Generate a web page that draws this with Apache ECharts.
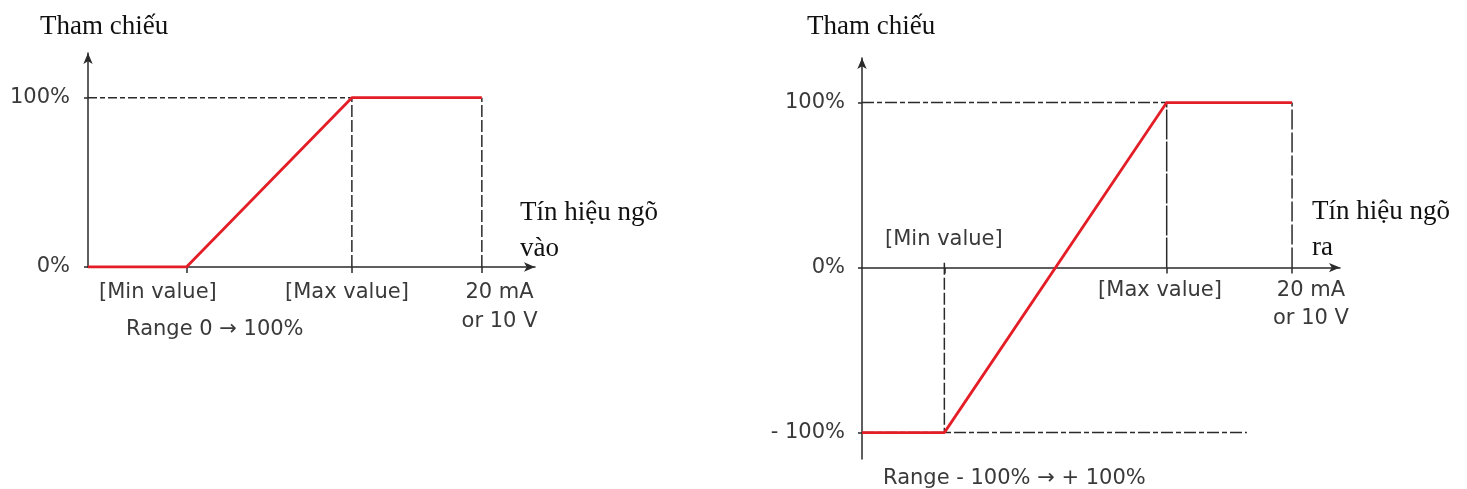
<!DOCTYPE html>
<html>
<head>
<meta charset="utf-8">
<script src="https://cdn.jsdelivr.net/npm/echarts@6/dist/echarts.min.js"></script>
<style>
  html, body { margin: 0; padding: 0; background: #fff; }
  #graph { width: 1467px; height: 489px; }
</style>
</head>
<body>
<div id="graph"></div>
<script>
"use strict"

// ---- left chart: input 0..100% ----
const leftMin = 5, leftMax = 13.4, leftFull = 20;
const leftCurve = [[0, 0], [leftMin, 0], [leftMax, 100], [leftFull, 100]];
const leftTickX = [leftMin, leftMax, leftFull];
const leftLabelX = [3.55, 13.15, 20.9];
const leftLabels = ["[Min value]", "[Max value]", "20 mA\nor 10 V"];
const leftYTicks = [0, 100];
const leftYLabels = ["0%", "100%"];

// ---- right chart: output -100..+100% ----
const rightMin = 3.83, rightMax = 14.17, rightFull = 20, rightLowEnd = 17.9;
const rightCurve = [[0, -100], [rightMin, -100], [rightMax, 100], [rightFull, 100]];
const rightTickX = [rightMin, rightMax, rightFull];
const rightLabelX = [13.86, 20.88];
const rightLabels = ["[Max value]", "20 mA\nor 10 V"];
const rightYTicks = [-100, 0, 100];
const rightYLabels = ["- 100%", "0%", "100%"];

const ink = "#2a2a2a";
const red = "#e41e26";
const labelFont = { fontFamily: "DejaVu Sans", fontSize: 21, color: "#3a3a3a", fontWeight: "normal" };
const serifFont = { fontFamily: "Liberation Serif", fontSize: 27, color: "#111", fontWeight: "normal" };

function pick(vals, texts)
{
    return v =>
    {
        let best = 0;
        vals.forEach((x, i) => { if (Math.abs(x - v) < Math.abs(vals[best] - v)) best = i; });
        return texts[best];
    };
}

// the x axis sits on the 0% line; offset lifts it there from the grid bottom
function xAx(grid, max, ticks, labelAt, labels, margin, lh, offset)
{
    return {
        type: "value", gridIndex: grid, min: 0, max: max, position: "bottom", offset: offset,
        splitLine: { show: false },
        axisLine: { show: true, onZero: false, symbol: ["none", "arrow"], symbolSize: [7, 11], lineStyle: { color: ink, width: 1.5 } },
        axisTick: { show: true, customValues: ticks, length: 6, lineStyle: { color: ink, width: 1.5 } },
        axisLabel: Object.assign({ show: true, customValues: labelAt, formatter: pick(labelAt, labels), margin: margin, lineHeight: lh }, labelFont)
    };
}

function yAx(grid, min, max, ticks, labels, margin)
{
    return {
        type: "value", gridIndex: grid, min: min, max: max,
        splitLine: { show: false },
        axisLine: { show: true, onZero: false, symbol: ["none", "arrow"], symbolSize: [7, 11], lineStyle: { color: ink, width: 1.5 } },
        axisTick: { show: true, customValues: ticks, length: 4, lineStyle: { color: ink, width: 1.5 } },
        axisLabel: Object.assign({ show: true, customValues: ticks, formatter: pick(ticks, labels), margin: margin }, labelFont)
    };
}

function guide(idx, data, dash)
{
    return {
        type: "line", xAxisIndex: idx, yAxisIndex: idx, data: data, symbol: "none", z: 2,
        lineStyle: { color: ink, width: 1.5, type: dash }, silent: true
    };
}

function curve(idx, data)
{
    return {
        type: "line", xAxisIndex: idx, yAxisIndex: idx, data: data, symbol: "none", z: 5,
        lineStyle: { color: red, width: 2.8 }, silent: true
    };
}

function caption(text, left, top, font, lh)
{
    return { text: text, left: left, top: top, padding: 0, textStyle: Object.assign({ lineHeight: lh }, font) };
}

const option = {
    animation: false,
    backgroundColor: "#fff",
    title: [
        caption("Tham chiếu", 40, 12, serifFont, 30),
        caption("Tham chiếu", 807, 12, serifFont, 30),
        caption("Tín hiệu ngõ\nvào", 520, 195, serifFont, 36),
        caption("Tín hiệu ngõ\nra", 1312, 194, serifFont, 36),
        caption("Range 0 → 100%", 126, 317, labelFont, 26),
        caption("Range - 100% → + 100%", 883, 466, labelFont, 26),
        caption("[Min value]", 885, 227, labelFont, 26)
    ],
    grid: [
        { left: 88, top: 53, width: 447, height: 214, outerBoundsMode: "none", containLabel: false },
        { left: 862, top: 58, width: 478, height: 401, outerBoundsMode: "none", containLabel: false }
    ],
    xAxis: [
        xAx(0, 22.7, leftTickX, leftLabelX, leftLabels, 11, 29, 0),
        xAx(1, 22.23, rightTickX, rightLabelX, rightLabels, 9, 28, -191.4)
    ],
    yAxis: [
        yAx(0, 0, 126.4, leftYTicks, leftYLabels, 18),
        yAx(1, -116, 127, rightYTicks, rightYLabels, 17)
    ],
    series: [
        guide(0, [[0, 100], [leftMax, 100]], [9, 3, 5, 3]),
        guide(0, [[leftMax, 0], [leftMax, 100]], [12, 3]),
        guide(0, [[leftFull, 0], [leftFull, 100]], [12, 3]),
        curve(0, leftCurve),

        guide(1, [[0, 100], [rightMax, 100]], [12, 3, 5, 3]),
        guide(1, [[0, -100], [rightLowEnd, -100]], [12, 3, 5, 3]),
        guide(1, [[rightMax, 0], [rightMax, 100]], [30, 2]),
        guide(1, [[rightFull, 0], [rightFull, 100]], [20, 3]),
        guide(1, [[rightMin, 3], [rightMin, -100]], [12, 3]),
        curve(1, rightCurve)
    ]
};

const myChart = echarts.init(document.getElementById("graph"), null, { renderer: "canvas" });
myChart.setOption(option);
</script>
</body>
</html>
